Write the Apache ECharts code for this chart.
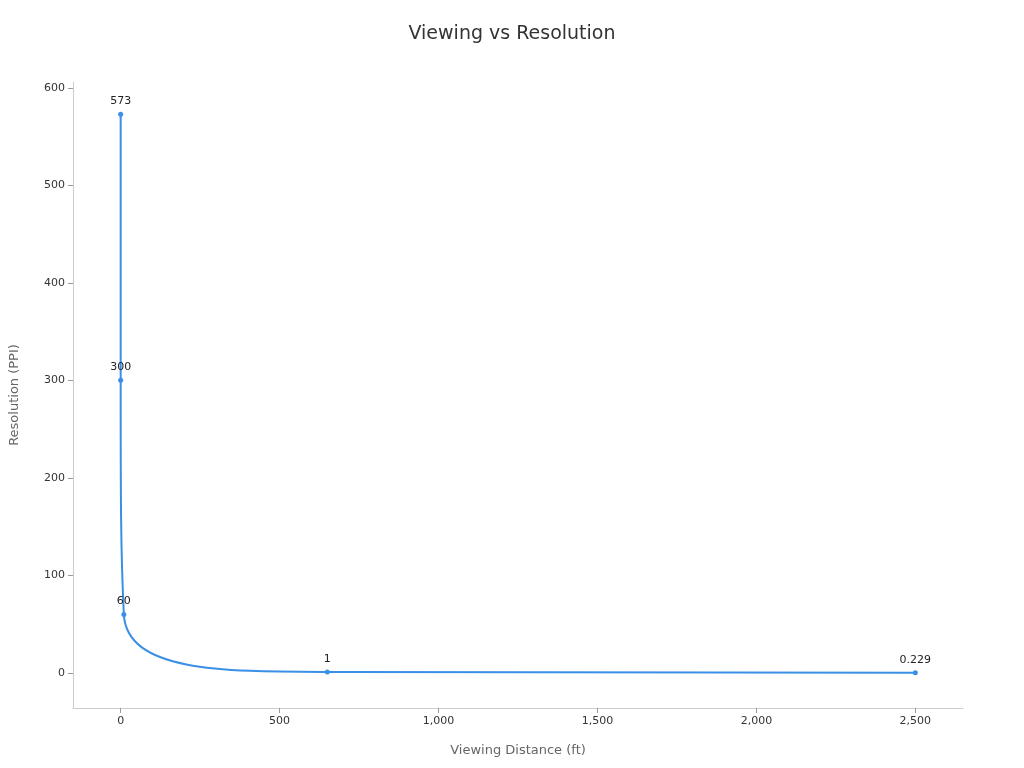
<!DOCTYPE html>
<html>
<head>
<meta charset="utf-8">
<script src="https://cdn.jsdelivr.net/npm/echarts@6/dist/echarts.min.js"></script>
<style>html,body{margin:0;padding:0;}#main{width:1024px;height:768px;}</style>
</head>
<body>
<div id="main"></div>
<script>
var distances = [0, 0, 10, 650, 2500];
var resolutions = [573, 300, 60, 1, 0.229];

var chart = echarts.init(document.getElementById('main'));
var points = distances.map(function (d, i) { return [d, resolutions[i]]; });

var option = {
  backgroundColor: '#fff',
  textStyle: { fontFamily: 'DejaVu Sans' },
  title: {
    text: 'Viewing vs Resolution',
    left: 'center',
    top: 20,
    textStyle: { fontSize: 19, fontWeight: 'normal', color: '#333' }
  },
  grid: { left: 68, right: 61, top: 82, bottom: 60 },
  xAxis: {
    type: 'value',
    min: -150,
    max: 2650,
    name: 'Viewing Distance (ft)',
    nameLocation: 'middle',
    nameGap: 36,
    nameTextStyle: { color: '#666', fontSize: 13 },
    axisLine: { show: true, onZero: false, lineStyle: { color: '#ccc' } },
    axisTick: { show: true, lineStyle: { color: '#999' } },
    axisLabel: { color: '#333', fontSize: 11, showMinLabel: false, showMaxLabel: false },
    splitLine: { show: false }
  },
  yAxis: {
    type: 'value',
    min: -36,
    max: 606,
    name: 'Resolution (PPI)',
    nameLocation: 'middle',
    nameGap: 52,
    nameTextStyle: { color: '#666', fontSize: 13 },
    axisLine: { show: true, onZero: false, lineStyle: { color: '#ccc' } },
    axisTick: { show: true, lineStyle: { color: '#999' } },
    axisLabel: { color: '#333', fontSize: 11, showMinLabel: false, showMaxLabel: false },
    splitLine: { show: false }
  },
  series: [{
    type: 'line',
    data: points,
    smooth: true,
    symbol: 'circle',
    symbolSize: 5,
    lineStyle: { color: '#3a8fe6', width: 2 },
    itemStyle: { color: '#3a8fe6' },
    label: { show: true, position: 'top', color: '#222', fontSize: 11,
      formatter: function (p) { return p.value[1]; } }
  }]
};
chart.setOption(option);
</script>
</body>
</html>
